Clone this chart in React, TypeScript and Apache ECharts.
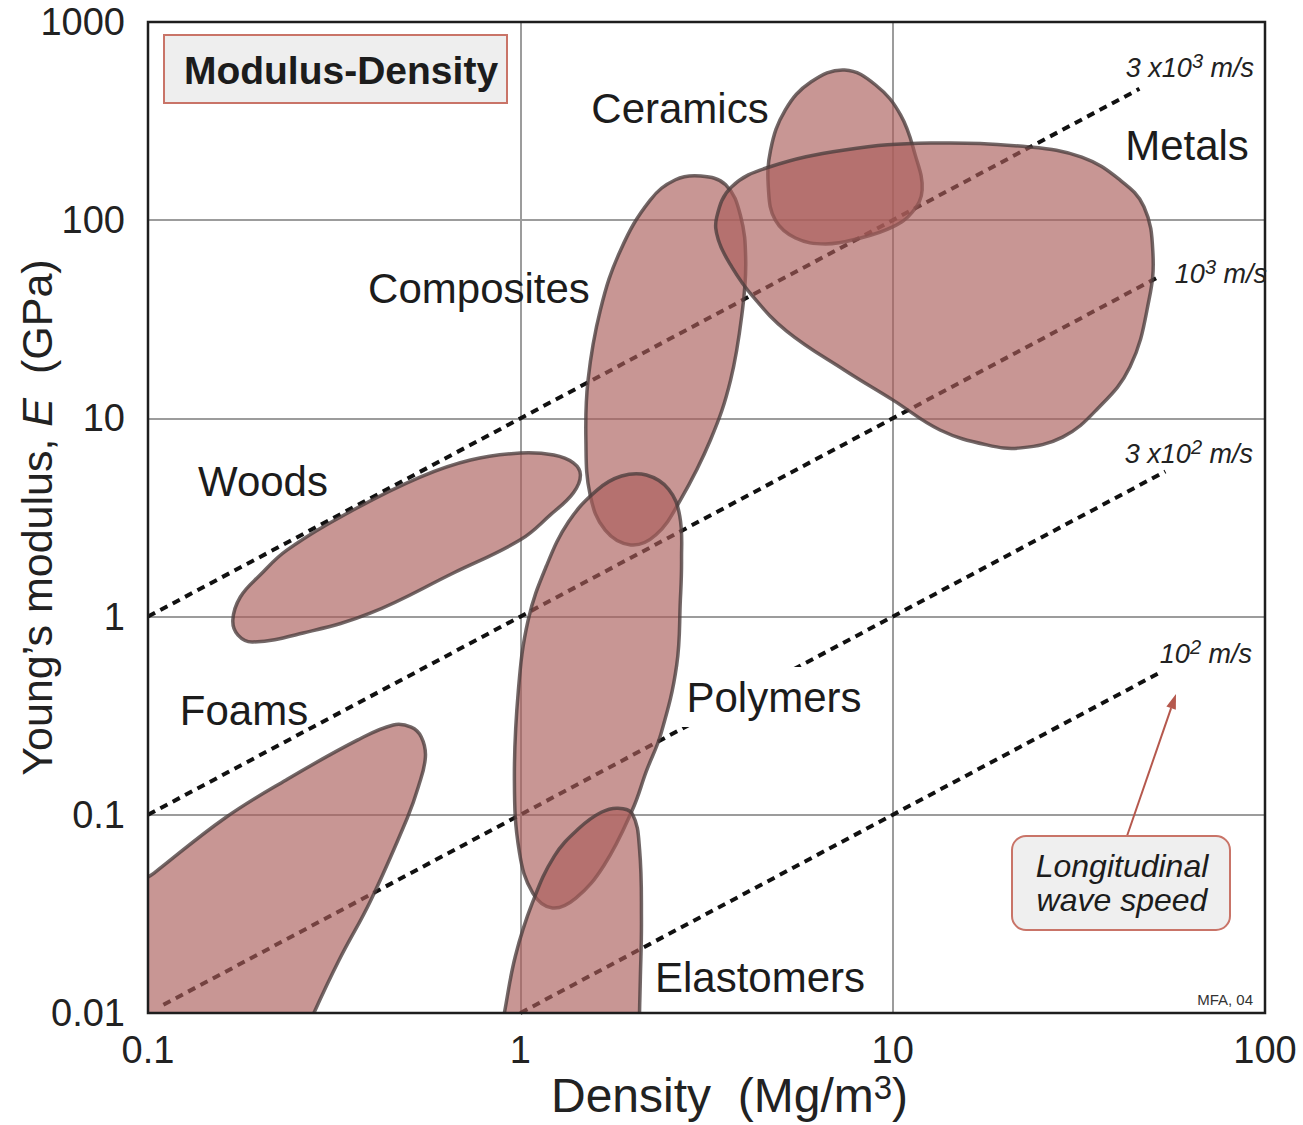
import React, { useEffect, useRef } from 'react';
import * as echarts from 'echarts';

const FONT = '"Liberation Sans", Arial, Helvetica, sans-serif';

// Axis tick labels (log decades)
const xTickLabels = ['0.1', '1', '10', '100'];
const yTickLabels = ['0.01', '0.1', '1', '10', '100', '1000'];

// Material family envelopes: [density Mg/m3, modulus GPa]
const woods = [[0.169, 0.962], [0.177, 1.256], [0.2, 1.62], [0.2366, 2.17], [0.3556, 3.45], [0.538, 5.06], [0.735, 6.17], [1.0, 6.69], [1.23, 6.53], [1.388, 5.96], [1.45, 5.18], [1.388, 4.21], [1.204, 3.26], [1.0, 2.44], [0.661, 1.66], [0.395, 1.04], [0.261, 0.826], [0.191, 0.745], [0.1745, 0.807]];
const foams = [[0.0841, 0.0372], [0.1038, 0.0508], [0.161, 0.0964], [0.235, 0.15], [0.365, 0.238], [0.456, 0.284], [0.509, 0.277], [0.542, 0.247], [0.556, 0.196], [0.532, 0.138], [0.497, 0.0964], [0.397, 0.0372], [0.326, 0.0185], [0.279, 0.01], [0.264, 0.0077], [0.0841, 0.0077]];
const composites = [[3.05, 167], [3.56, 151], [3.9, 106], [4.03, 63], [3.95, 35.2], [3.67, 15.6], [3.24, 7.78], [2.69, 3.87], [2.31, 2.58], [1.98, 2.3], [1.69, 2.73], [1.54, 4.11], [1.5, 7.78], [1.52, 15.6], [1.64, 35.2], [1.86, 70.8], [2.23, 126], [2.61, 160]];
const polymers = [[2.18, 5.18], [2.5, 4.4], [2.68, 3.22], [2.71, 1.93], [2.69, 1.21], [2.63, 0.57], [2.39, 0.259], [2.18, 0.166], [2.0, 0.106], [1.68, 0.0558], [1.41, 0.038], [1.22, 0.0339], [1.08, 0.0403], [0.994, 0.0649], [0.964, 0.15], [0.988, 0.426], [1.05, 0.962], [1.175, 1.8], [1.346, 3.0], [1.61, 4.36], [1.87, 5.12]];
const elastomers = [[1.83, 0.108], [2.0, 0.101], [2.09, 0.0672], [2.115, 0.0295], [2.1, 0.01466], [2.09, 0.01], [2.09, 0.0077], [0.884, 0.0077], [0.906, 0.01], [0.97, 0.0194], [1.077, 0.0359], [1.234, 0.0619], [1.44, 0.0857], [1.65, 0.103]];
const ceramics = [[7.43, 573], [9.0, 481], [10.5, 340], [11.5, 213], [12.0, 142], [11.3, 110], [10.0, 92.5], [8.2, 81.3], [6.6, 75.9], [5.48, 81.3], [4.84, 100], [4.64, 142], [4.7, 226], [5.15, 360], [6.03, 498]];
const metals = [[3.37, 104], [3.69, 147], [4.64, 185], [7.43, 226], [12.65, 245], [23.3, 234], [32.2, 208], [40.7, 160], [47.3, 117], [50.0, 68.3], [48.8, 39.6], [43.4, 18.2], [35.2, 11.0], [28.6, 8.05], [22.1, 7.1], [17.9, 7.35], [13.4, 8.74], [10.0, 12.4], [7.43, 17.5], [5.2, 27.5], [4.2, 41.5], [3.7, 58], [3.4, 80]];

const bubbleOrder = [woods, foams, composites, polymers, elastomers, ceramics, metals];

// Longitudinal wave speed guide lines (E / rho = const)
const speed3e3 = [[0.1, 1], [46, 460]];
const speed1e3 = [[0.1, 0.1], [52, 52]];
const speed3e2 = [[0.11, 0.011], [54, 5.4]];
const speed1e2 = [[1, 0.01], [52, 0.52]];
const speedLines = [speed3e3, speed1e3, speed3e2, speed1e2];

// Layout constants
const GRID = { left: 148, top: 22, width: 1117, height: 991 };

export default function App() {
  const ref = useRef<HTMLDivElement>(null);

  useEffect(() => {
    const chart = echarts.init(ref.current as HTMLDivElement, null, { renderer: 'svg' });

    const bubbleSeries = bubbleOrder.map((pts) => ({
      type: 'custom',
      clip: true,
      z: 3,
      silent: true,
      data: pts,
      encode: { x: 0, y: 1 },
      renderItem: (params: any, api: any) => {
        if (params.dataIndex !== 0) return null;
        const cs = params.coordSys;
        const points = pts.map((p) => api.coord(p));
        return {
          type: 'polygon',
          shape: { points, smooth: 0.4 },
          style: {
            fill: 'rgba(171,94,91,0.65)',
            stroke: 'rgba(75,62,62,0.78)',
            lineWidth: 3.5,
          },
          clipPath: {
            type: 'rect',
            shape: { x: cs.x, y: cs.y, width: cs.width, height: cs.height },
          },
        };
      },
    }));

    const lineSeries = speedLines.map((d) => ({
      type: 'line',
      data: d,
      symbol: 'none',
      silent: true,
      z: 1,
      lineStyle: { color: '#111', width: 4, type: [8, 6] },
    }));

    const labelText = (text: string, x: number, y: number, extra: any = {}) => ({
      type: 'text',
      z: 100,
      style: {
        text,
        x,
        y,
        align: 'center',
        verticalAlign: 'middle',
        fontSize: 42,
        fontFamily: FONT,
        fill: '#1c1c1c',
        ...extra,
      },
    });

    const speedRich = {
      n: { fontSize: 27, fontStyle: 'italic', fontFamily: FONT, fill: '#222', lineHeight: 30, verticalAlign: 'bottom' },
      s: { fontSize: 20, fontStyle: 'italic', fontFamily: FONT, fill: '#222', lineHeight: 20, verticalAlign: 'top' },
    };
    const speedLabel = (text: string, x: number, y: number) => ({
      type: 'text',
      z: 100,
      style: { text, x, y, align: 'right', verticalAlign: 'middle', rich: speedRich },
    });

    // arrow geometry
    const ax0 = 1127, ay0 = 836, ax1 = 1176, ay1 = 694;
    const len = Math.hypot(ax1 - ax0, ay1 - ay0);
    const ux = (ax1 - ax0) / len, uy = (ay1 - ay0) / len;
    const bx = ax1 - ux * 15, by = ay1 - uy * 15;
    const arrowHead = [[ax1, ay1], [bx - uy * 5, by + ux * 5], [bx + uy * 5, by - ux * 5]];

    const option: any = {
      animation: false,
      backgroundColor: '#ffffff',
      grid: {
        left: GRID.left,
        top: GRID.top,
        width: GRID.width,
        height: GRID.height,
        show: false,
        containLabel: false,
        outerBoundsMode: 'none',
      },
      xAxis: {
        type: 'log',
        logBase: 10,
        min: 0.1,
        max: 100,
        axisLine: { show: false },
        axisTick: { show: false },
        splitLine: { show: true, lineStyle: { color: '#9c9c9c', width: 2 } },
        axisLabel: {
          formatter: (v: number) => xTickLabels[Math.round(Math.log10(v)) + 1],
          fontSize: 38,
          color: '#222',
          fontFamily: FONT,
          margin: 18,
        },
        name: 'Density  (Mg/m{sup|3})',
        nameLocation: 'middle',
        nameGap: 58,
        nameMoveOverlap: false,
        nameTextStyle: {
          fontSize: 48,
          color: '#222',
          fontFamily: FONT,
          lineHeight: 48,
          padding: [0, 0, 0, 46],
          rich: { sup: { fontSize: 33, color: '#222', fontFamily: FONT, lineHeight: 28, verticalAlign: 'top' } },
        },
      },
      yAxis: {
        type: 'log',
        logBase: 10,
        min: 0.01,
        max: 1000,
        axisLine: { show: false },
        axisTick: { show: false },
        splitLine: { show: true, lineStyle: { color: '#9c9c9c', width: 2 } },
        axisLabel: {
          formatter: (v: number) => yTickLabels[Math.round(Math.log10(v)) + 2],
          fontSize: 38,
          color: '#222',
          fontFamily: FONT,
          margin: 23,
        },
        name: 'Young\u2019s modulus, {i|E}  (GPa)',
        nameLocation: 'middle',
        nameGap: 90,
        nameMoveOverlap: false,
        nameRotate: 90,
        nameTextStyle: {
          fontSize: 43,
          color: '#222',
          fontFamily: FONT,
          rich: { i: { fontSize: 43, fontStyle: 'italic', color: '#222', fontFamily: FONT } },
        },
      },
      series: [...lineSeries, ...bubbleSeries],
      graphic: [
        // plot frame
        {
          type: 'rect',
          z: 100,
          shape: { x: GRID.left, y: GRID.top, width: GRID.width, height: GRID.height },
          style: { fill: 'none', stroke: '#1e1e1e', lineWidth: 2.5 },
        },
        // title box
        {
          type: 'rect',
          z: 100,
          shape: { x: 164, y: 35, width: 343, height: 68 },
          style: { fill: '#eeeeee', stroke: '#c97468', lineWidth: 2 },
        },
        labelText('Modulus-Density', 341, 70, { fontWeight: 'bold', fontSize: 39 }),
        // family labels
        labelText('Ceramics', 680, 108),
        labelText('Metals', 1187, 145),
        labelText('Composites', 479, 288),
        labelText('Woods', 263, 481),
        labelText('Foams', 244, 710),
        labelText('Polymers', 773, 697, { backgroundColor: '#ffffff', lineHeight: 44, padding: [0, 6, 16, 8] }),
        labelText('Elastomers', 760, 977),
        // wave speed labels
        speedLabel('{n|3 x10}{s|3}{n| m/s}', 1254, 66),
        speedLabel('{n|10}{s|3}{n| m/s}', 1267, 272),
        speedLabel('{n|3 x10}{s|2}{n| m/s}', 1253, 452),
        speedLabel('{n|10}{s|2}{n| m/s}', 1252, 652),
        // annotation box
        {
          type: 'line',
          z: 100,
          shape: { x1: ax0, y1: ay0, x2: bx, y2: by },
          style: { stroke: '#b5584d', lineWidth: 2 },
        },
        {
          type: 'polygon',
          z: 100,
          shape: { points: arrowHead },
          style: { fill: '#b5584d' },
        },
        {
          type: 'rect',
          z: 100,
          shape: { x: 1012, y: 836, width: 218, height: 94, r: 14 },
          style: { fill: '#efefef', stroke: '#c97468', lineWidth: 2 },
        },
        labelText('Longitudinal', 1122, 866, { fontSize: 32, fontStyle: 'italic' }),
        labelText('wave speed', 1122, 900, { fontSize: 32, fontStyle: 'italic' }),
        {
          type: 'text',
          z: 100,
          style: { text: 'MFA, 04', x: 1253, y: 999, align: 'right', verticalAlign: 'middle', fontSize: 15, fontFamily: FONT, fill: '#333' },
        },
      ],
    };

    chart.setOption(option);
    return () => chart.dispose();
  }, []);

  return (
    <div
      ref={ref}
      style={{ position: 'absolute', left: 0, top: 0, width: 1303, height: 1125, background: '#fff' }}
    />
  );
}
